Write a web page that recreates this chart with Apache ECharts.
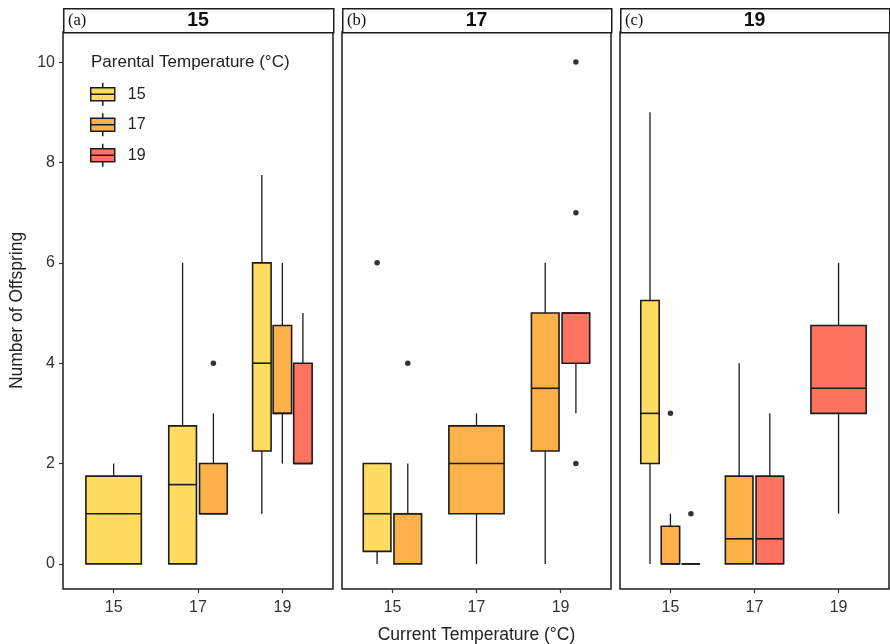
<!DOCTYPE html>
<html>
<head>
<meta charset="utf-8">
<script src="https://cdn.jsdelivr.net/npm/echarts@6.0.0/dist/echarts.min.js"></script>
<style>
	html, body { margin: 0; padding: 0; background: #fff; }
	#chart { width: 890px; height: 644px; }
</style>
</head>
<body>
<div id="chart"></div>
<script>
'use strict';

var currentTemps = ['15', '17', '19'];
var parentalTemps = ['15', '17', '19'];
var panelLabels = ['(a)', '(b)', '(c)'];
var panelTitles = ['15', '17', '19'];
var yTicks = [0, 2, 4, 6, 8, 10];

// [current, parental, min, q1, median, q3, max]
var statsA = [
	['15', '15', 0, 0, 1, 1.75, 2],
	['17', '15', 0, 0, 1.58, 2.75, 6],
	['17', '17', 1, 1, 1, 2, 3],
	['19', '15', 1, 2.25, 4, 6, 7.75],
	['19', '17', 2, 3, 3, 4.75, 6],
	['19', '19', 2, 2, 2, 4, 5]
];
var statsB = [
	['15', '15', 0, 0.25, 1, 2, 2],
	['15', '17', 0, 0, 1, 1, 2],
	['17', '17', 0, 1, 2, 2.75, 3],
	['19', '17', 0, 2.25, 3.5, 5, 6],
	['19', '19', 3, 4, 5, 5, 5]
];
var statsC = [
	['15', '15', 0, 2, 3, 5.25, 9],
	['15', '17', 0, 0, 0, 0.75, 1],
	['15', '19', 0, 0, 0, 0, 0],
	['17', '17', 0, 0, 0.5, 1.75, 4],
	['17', '19', 0, 0, 0.5, 1.75, 3],
	['19', '19', 1, 3, 3.5, 4.75, 6]
];

// [current, parental, value]
var outliersA = [
	['17', '17', 4]
];
var outliersB = [
	['15', '15', 6],
	['15', '17', 4],
	['19', '19', 10],
	['19', '19', 7],
	['19', '19', 2]
];
var outliersC = [
	['15', '17', 3],
	['15', '19', 1]
];

var fillColors = ['#FFDB5F', '#FEB049', '#FF735F'];
var lineColor = '#1c1c1c';
var dodgeWidth = 0.73;
var boxPadding = 0.1;

var panelBoxes = [
	{ left: 63, width: 270 },
	{ left: 342, width: 269 },
	{ left: 620, width: 269 }
];
var stripTop = 8;
var stripHeight = 24;
var plotTop = 32;
var plotBottom = 55;

//按当前温度分组, 计算dodge位置
var dodgeX = function (groups, current, parental) {
	var g = groups[current];
	var slotW = dodgeWidth / g.length;
	return currentTemps.indexOf(current) + 1 - dodgeWidth / 2 + slotW * (g.indexOf(parental) + 0.5);
};

var renderBox = function (params, api) {
	var cx = api.value(0);
	var half = api.value(6) / 2;
	var color = api.visual('color');
	var pMax = api.coord([cx, api.value(5)]);
	var pQ3 = api.coord([cx, api.value(4)]);
	var pMed = api.coord([cx, api.value(3)]);
	var pQ1 = api.coord([cx, api.value(2)]);
	var pMin = api.coord([cx, api.value(1)]);
	var pL = api.coord([cx - half, 0])[0];
	var pR = api.coord([cx + half, 0])[0];
	var whisker = { stroke: lineColor, lineWidth: 1.3 };
	return {
		type: 'group',
		children: [
			{ type: 'line', shape: { x1: pMax[0], y1: pMax[1], x2: pQ3[0], y2: pQ3[1] }, style: whisker },
			{ type: 'line', shape: { x1: pQ1[0], y1: pQ1[1], x2: pMin[0], y2: pMin[1] }, style: whisker },
			{
				type: 'rect',
				shape: { x: pL, y: pQ3[1], width: pR - pL, height: pQ1[1] - pQ3[1] },
				style: { fill: color, stroke: lineColor, lineWidth: 1.6 }
			},
			{ type: 'line', shape: { x1: pL, y1: pMed[1], x2: pR, y2: pMed[1] }, style: { stroke: lineColor, lineWidth: 1.6 } }
		]
	};
};

var grids = [], xAxes = [], yAxes = [], series = [], graphics = [];
var allStats = [statsA, statsB, statsC];
var allOutliers = [outliersA, outliersB, outliersC];

allStats.forEach(function (stats, p) {
	var box = panelBoxes[p];
	grids.push({
		left: box.left, top: plotTop, width: box.width, bottom: plotBottom,
		outerBoundsMode: 'none', containLabel: false,
		show: true, borderColor: lineColor, borderWidth: 1.5, backgroundColor: '#fff'
	});
	xAxes.push({
		type: 'value', gridIndex: p, min: 0.4, max: 3.6,
		splitLine: { show: false },
		axisLine: { show: false, onZero: false },
		axisTick: { show: true, customValues: [1, 2, 3], length: 4, lineStyle: { color: '#333', width: 1.2 } },
		axisLabel: {
			customValues: [1, 2, 3], margin: 11, fontSize: 16, color: '#333', fontFamily: 'Liberation Sans',
			formatter: function (v) { return currentTemps[Math.round(v) - 1]; }
		},
		name: p === 1 ? 'Current Temperature (°C)' : '',
		nameLocation: 'middle', nameGap: 37,
		nameTextStyle: { fontSize: 17.5, color: '#222', fontFamily: 'Liberation Sans' }
	});
	yAxes.push({
		type: 'value', gridIndex: p, min: -0.5, max: 10.6,
		splitLine: { show: false },
		axisLine: { show: false, onZero: false },
		axisTick: { show: p === 0, customValues: yTicks, length: 4, lineStyle: { color: '#333', width: 1.2 } },
		axisLabel: { show: p === 0, customValues: yTicks, margin: 8, fontSize: 16, color: '#333', fontFamily: 'Liberation Sans' },
		name: p === 0 ? 'Number of Offspring' : '',
		nameLocation: 'middle', nameGap: 37, nameRotate: 90,
		nameTextStyle: { fontSize: 17.5, color: '#222', fontFamily: 'Liberation Sans' }
	});

	var groups = {};
	stats.forEach(function (row) {
		(groups[row[0]] = groups[row[0]] || []).push(row[1]);
	});

	parentalTemps.forEach(function (pt, k) {
		var data = [];
		stats.forEach(function (row) {
			if (row[1] !== pt) return;
			var boxW = dodgeWidth / groups[row[0]].length * (1 - boxPadding);
			data.push([dodgeX(groups, row[0], pt), row[2], row[3], row[4], row[5], row[6], boxW]);
		});
		series.push({
			type: 'custom', name: pt, xAxisIndex: p, yAxisIndex: p,
			renderItem: renderBox,
			itemStyle: { color: fillColors[k] },
			encode: { x: 0, y: [1, 2, 3, 4, 5] },
			data: data
		});
	});

	series.push({
		type: 'scatter', xAxisIndex: p, yAxisIndex: p,
		symbolSize: 5.5, itemStyle: { color: '#000' },
		silent: true,
		data: allOutliers[p].map(function (o) { return [dodgeX(groups, o[0], o[1]), o[2]]; })
	});

	//分面标题条
	graphics.push({
		type: 'rect', left: box.left, top: stripTop,
		shape: { width: box.width, height: stripHeight },
		style: { fill: '#fff', stroke: lineColor, lineWidth: 1.5 }
	});
	graphics.push({
		type: 'text', x: box.left + 5, y: stripTop + stripHeight / 2 + 1,
		style: { text: panelLabels[p], font: '16.5px "Liberation Serif"', fill: '#111', textVerticalAlign: 'middle' }
	});
	graphics.push({
		type: 'text', x: box.left + box.width / 2, y: stripTop + stripHeight / 2 + 1,
		style: { text: panelTitles[p], font: 'bold 19.5px "Liberation Sans"', fill: '#111', textAlign: 'center', textVerticalAlign: 'middle' }
	});
});

graphics.push({
	type: 'text', left: 91, top: 54,
	style: { text: 'Parental Temperature (°C)', font: '17px "Liberation Sans"', fill: '#222' }
});

var chart = echarts.init(document.getElementById('chart'), null, { renderer: 'canvas' });
chart.setOption({
	animation: false,
	backgroundColor: '#fff',
	grid: grids,
	xAxis: xAxes,
	yAxis: yAxes,
	legend: {
		left: 90, top: 82, orient: 'vertical', padding: 0,
		itemWidth: 24, itemHeight: 23, itemGap: 6,
		icon: 'path://M0,5 H24 V18 H0 Z M0,11.5 H24 M12,0 V5 M12,18 V23',
		itemStyle: { borderColor: lineColor, borderWidth: 1.5 },
		textStyle: { fontSize: 16, color: '#222', fontFamily: 'Liberation Sans', padding: [0, 0, 0, 8] },
		selectedMode: false,
		data: parentalTemps
	},
	graphic: graphics,
	series: series
});
</script>
</body>
</html>
